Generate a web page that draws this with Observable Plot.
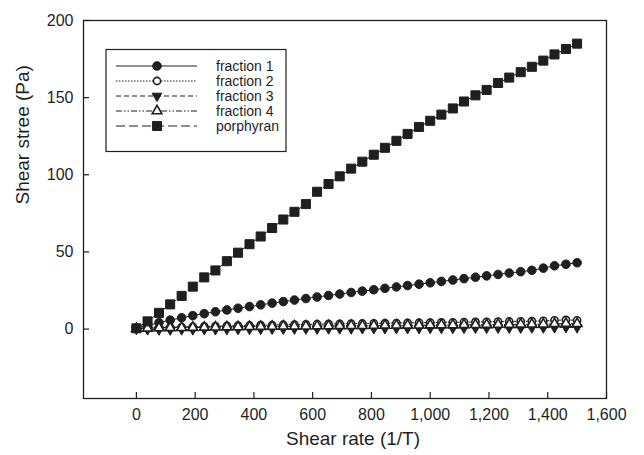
<!DOCTYPE html>
<html><head><meta charset="utf-8">
<script src="https://cdn.jsdelivr.net/npm/d3@7"></script>
<script src="https://cdn.jsdelivr.net/npm/@observablehq/plot@0.6"></script>
<style>body{margin:0;background:#fff}#chart{width:644px;height:455px}</style>
</head><body><div id="chart"></div>
<script>
const shearRate = [0, 38, 77, 115, 154, 192, 231, 269, 308, 346, 385, 423, 462, 500, 538, 577, 615, 654, 692, 731, 769, 808, 846, 885, 923, 962, 1000, 1038, 1077, 1115, 1154, 1192, 1231, 1269, 1308, 1346, 1385, 1423, 1462, 1500];
const fraction1 = [0.5, 2.3, 4.2, 5.8, 7.3, 8.7, 10, 11.2, 12.4, 13.5, 14.6, 15.7, 16.8, 17.8, 18.8, 19.8, 20.8, 21.8, 22.7, 23.7, 24.6, 25.5, 26.4, 27.3, 28.2, 29.1, 30, 30.9, 31.8, 32.7, 33.6, 34.5, 35.4, 36.3, 37.2, 38.1, 39.5, 41, 42, 43];
const fraction2 = [0.3, 0.6, 0.9, 1.1, 1.3, 1.5, 1.7, 1.9, 2.0, 2.2, 2.3, 2.5, 2.6, 2.8, 2.9, 3.0, 3.2, 3.3, 3.4, 3.5, 3.6, 3.7, 3.8, 3.9, 4.0, 4.1, 4.2, 4.3, 4.4, 4.5, 4.6, 4.7, 4.8, 4.9, 5.0, 5.1, 5.3, 5.7, 5.9, 5.7];
const fraction3 = [0.0, -0.3, -0.4, -0.4, -0.3, -0.3, -0.2, -0.2, -0.1, -0.1, 0, 0, 0.1, 0.1, 0.2, 0.2, 0.2, 0.3, 0.3, 0.3, 0.4, 0.4, 0.4, 0.5, 0.5, 0.5, 0.6, 0.6, 0.6, 0.7, 0.7, 0.7, 0.8, 0.8, 0.8, 0.9, 0.9, 1.0, 1.1, 1.0];
const fraction4 = [0.3, 0.5, 0.7, 0.8, 0.9, 1.0, 1.1, 1.2, 1.3, 1.4, 1.5, 1.6, 1.7, 1.8, 1.8, 1.9, 2.0, 2.0, 2.1, 2.2, 2.2, 2.3, 2.4, 2.4, 2.5, 2.5, 2.6, 2.7, 2.7, 2.8, 2.8, 2.9, 3.0, 3.0, 3.1, 3.1, 3.2, 3.4, 3.6, 3.5];
const porphyran = [0.5, 5, 10.5, 16, 21.5, 27.5, 33.5, 38, 44, 49.5, 55, 60, 65.5, 71, 76, 81, 89, 94, 99, 104, 108.5, 113, 117.5, 122, 126.5, 131, 135, 139, 143, 147.5, 151.5, 155, 159.5, 163, 166.5, 170, 174, 178, 181.5, 185];
const seriesNames = ["fraction 1", "fraction 2", "fraction 3", "fraction 4", "porphyran"];
const seriesValues = [fraction1, fraction2, fraction3, fraction4, porphyran];
const xTicks = [0, 200, 400, 600, 800, 1000, 1200, 1400, 1600];
const yTicks = [0, 50, 100, 150, 200];
const xTitle = "Shear rate (1/T)";
const yTitle = "Shear stree (Pa)";

const S3 = Math.sqrt(3);
const triangleDown = {draw(ctx, size) {
  const y = -Math.sqrt(size / (S3 * 3));
  ctx.moveTo(0, -2 * y);
  ctx.lineTo(S3 * y, y);
  ctx.lineTo(-S3 * y, y);
  ctx.closePath();
}};
const ink = "#1f1f1f";
const styles = [
  {symbol: "circle", fill: ink, dash: null, r: 4.3, sw: 1},
  {symbol: "circle", fill: "#fff", dash: "1.5,1.5", r: 3.6, sw: 1.6},
  {symbol: triangleDown, fill: ink, dash: "5,3", r: 3.6, sw: 1},
  {symbol: "triangle", fill: "#fff", dash: "6,2,1.5,2,1.5,2", r: 3.6, sw: 1.6},
  {symbol: "square", fill: ink, dash: "9,4", r: 5.1, sw: 1}
];

const rows = [];
seriesNames.forEach((name, s) => seriesValues[s].forEach((v, i) => rows.push({series: name, s, x: shearRate[i], y: v})));

const W = 644, H = 455, mt = 20, mr = 38, mb = 57, ml = 83;
const plotW = W - ml - mr, plotH = H - mt - mb;
const font = "'Liberation Sans', Arial, Helvetica, sans-serif";

const seriesMarks = [];
seriesNames.forEach((name, s) => {
  const st = styles[s];
  const data = rows.filter(d => d.s === s);
  seriesMarks.push(Plot.line(data, {x: "x", y: "y", stroke: ink, strokeWidth: 1, strokeDasharray: st.dash}));
});
seriesNames.forEach((name, s) => {
  const st = styles[s];
  const data = rows.filter(d => d.s === s);
  seriesMarks.push(Plot.dot(data, {x: "x", y: "y", symbol: () => st.symbol, r: st.r, fill: st.fill, stroke: ink, strokeWidth: st.sw}));
});

const plot = Plot.plot({
  width: W, height: H, marginTop: mt, marginRight: mr, marginBottom: mb, marginLeft: ml,
  style: {fontFamily: font, fontSize: "16px", color: ink, background: "#fff"},
  x: {domain: [-180, 1600]},
  y: {domain: [-45, 200]},
  symbol: {type: "identity"},
  marks: [
    Plot.frame({stroke: ink, strokeWidth: 1.3}),
    Plot.axisX(xTicks, {tickSize: 0, tickPadding: 10, tickFormat: d3.format(","), label: null, fontSize: 16}),
    Plot.axisY(yTicks, {tickSize: 0, tickPadding: 10, label: null, fontSize: 16}),
    Plot.tickX(xTicks, {x: d => d, insetTop: plotH - 6, stroke: ink, strokeWidth: 1.2}),
    Plot.tickY(yTicks, {y: d => d, insetRight: plotW - 6, stroke: ink, strokeWidth: 1.2}),
    ...seriesMarks,
    Plot.text([xTitle], {text: d => d, frameAnchor: "bottom", dx: 8, dy: 46, fontSize: 19, fill: ink}),
    Plot.text([yTitle], {text: d => d, frameAnchor: "left", dx: -61, dy: -5, rotate: -90, fontSize: 19, fill: ink})
  ]
});
document.getElementById("chart").appendChild(plot);

// Legend
const svg = d3.select(plot);
const lg = svg.append("g").attr("font-family", font).attr("font-size", 14).attr("fill", ink).attr("text-anchor", "start");
lg.append("rect").attr("x", 106).attr("y", 49.5).attr("width", 180).attr("height", 102)
  .attr("fill", "#fff").attr("stroke", ink).attr("stroke-width", 1.2);
seriesNames.forEach((name, s) => {
  const st = styles[s];
  const y = 66 + s * 15;
  lg.append("line").attr("x1", 116).attr("x2", 197).attr("y1", y).attr("y2", y)
    .attr("stroke", ink).attr("stroke-width", 1).attr("stroke-dasharray", st.dash);
  const sym = typeof st.symbol === "string" ? {circle: d3.symbolCircle, triangle: d3.symbolTriangle, square: d3.symbolSquare}[st.symbol] : st.symbol;
  lg.append("path").attr("transform", `translate(157,${y})`)
    .attr("d", d3.symbol(sym, Math.PI * st.r * st.r)())
    .attr("fill", st.fill).attr("stroke", ink).attr("stroke-width", st.sw);
  lg.append("text").attr("x", 216).attr("y", y).attr("dy", "0.35em").attr("text-anchor", "start").text(name);
});
</script>
</body></html>
